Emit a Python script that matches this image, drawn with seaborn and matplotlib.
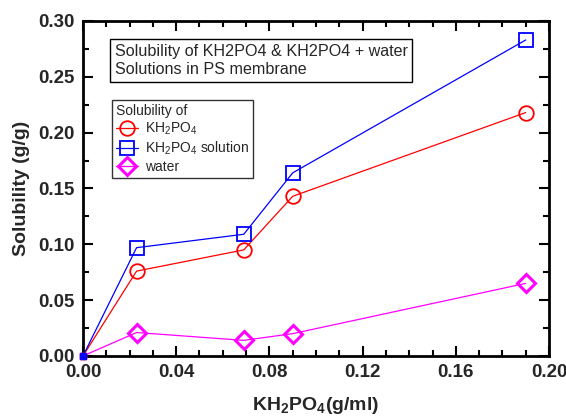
import matplotlib
matplotlib.use("Agg")
import matplotlib.pyplot as plt
import seaborn as sns
import pandas as pd
from matplotlib.ticker import MultipleLocator, FormatStrFormatter

conc = [0.0, 0.023, 0.069, 0.090, 0.190]
kh2po4 = [0.0, 0.076, 0.095, 0.143, 0.218]
solution = [0.0, 0.097, 0.109, 0.164, 0.283]
water = [0.0, 0.021, 0.014, 0.020, 0.065]
series_names = ["KH$_2$PO$_4$", "KH$_2$PO$_4$ solution", "water"]

sns.set_theme(style="ticks")
plt.rcParams['font.family'] = ['Liberation Sans', 'DejaVu Sans']
plt.rcParams['mathtext.fontset'] = 'custom'
plt.rcParams['mathtext.rm'] = 'Liberation Sans'
plt.rcParams['mathtext.bf'] = 'Liberation Sans:bold'

fig = plt.figure(figsize=(5.66, 4.19), dpi=100)
ax = fig.add_axes([0.1466, 0.1504, 0.8234, 0.7995])

styles = [
    dict(color="#ff0000", marker="o", ms=10.5, mew=1.3),
    dict(color="#0000ff", marker="s", ms=10.5, mew=1.3),
    dict(color="#ff00ff", marker="D", ms=9, mew=2.2),
]
for name, vals, st in zip(series_names, [kh2po4, solution, water], styles):
    df = pd.DataFrame({"x": conc, "y": vals})
    sns.lineplot(data=df, x="x", y="y", ax=ax, color=st["color"], lw=0.9,
                 marker=st["marker"], markersize=st["ms"], markeredgewidth=st["mew"],
                 markerfacecolor="none", markeredgecolor=st["color"],
                 markevery=[1, 2, 3, 4], label=name)
for vals, st in zip([water, kh2po4, solution], [styles[2], styles[0], styles[1]]):
    # small filled marker at origin
    ax.plot(conc[:1], vals[:1], marker="s", ms=4.5, color=st["color"], ls="none",
            clip_on=False, zorder=6)

ax.set_xlim(0, 0.20)
ax.set_ylim(0, 0.30)
ax.xaxis.set_major_locator(MultipleLocator(0.04))
ax.xaxis.set_minor_locator(MultipleLocator(0.01))
ax.yaxis.set_major_locator(MultipleLocator(0.05))
ax.yaxis.set_minor_locator(MultipleLocator(0.025))
ax.xaxis.set_major_formatter(FormatStrFormatter("%.2f"))
ax.yaxis.set_major_formatter(FormatStrFormatter("%.2f"))
ax.tick_params(which="both", direction="in", top=True, right=True, color="black", width=1.5)
ax.tick_params(which="major", length=7, labelsize=13.5, pad=6)
ax.tick_params(which="minor", length=4)
for lab in ax.get_xticklabels() + ax.get_yticklabels():
    lab.set_fontweight("bold")
for sp in ax.spines.values():
    sp.set_linewidth(2)
    sp.set_color("black")

ax.set_xlabel(r"KH$_\mathbf{2}$PO$_\mathbf{4}$(g/ml)", fontsize=14, fontweight="bold", labelpad=10)
ax.set_ylabel("Solubility (g/g)", fontsize=14, fontweight="bold", labelpad=6)

ax.text(0.068, 0.932, "Solubility of KH2PO4 & KH2PO4 + water\nSolutions in PS membrane",
        transform=ax.transAxes, fontsize=11.6, va="top", ha="left", linespacing=1.25,
        bbox=dict(boxstyle="square,pad=0.3", fc="white", ec="black", lw=1))

leg = ax.legend(title="Solubility of", loc="upper left", bbox_to_anchor=(0.062, 0.765),
                fontsize=10, title_fontsize=10, frameon=True, fancybox=False,
                edgecolor="black", borderpad=0.3, labelspacing=0.2, handlelength=1.6,
                handletextpad=0.5, borderaxespad=0)
leg._legend_box.align = "left"
leg.get_frame().set_linewidth(1)

fig.savefig("out.png", dpi=100)
